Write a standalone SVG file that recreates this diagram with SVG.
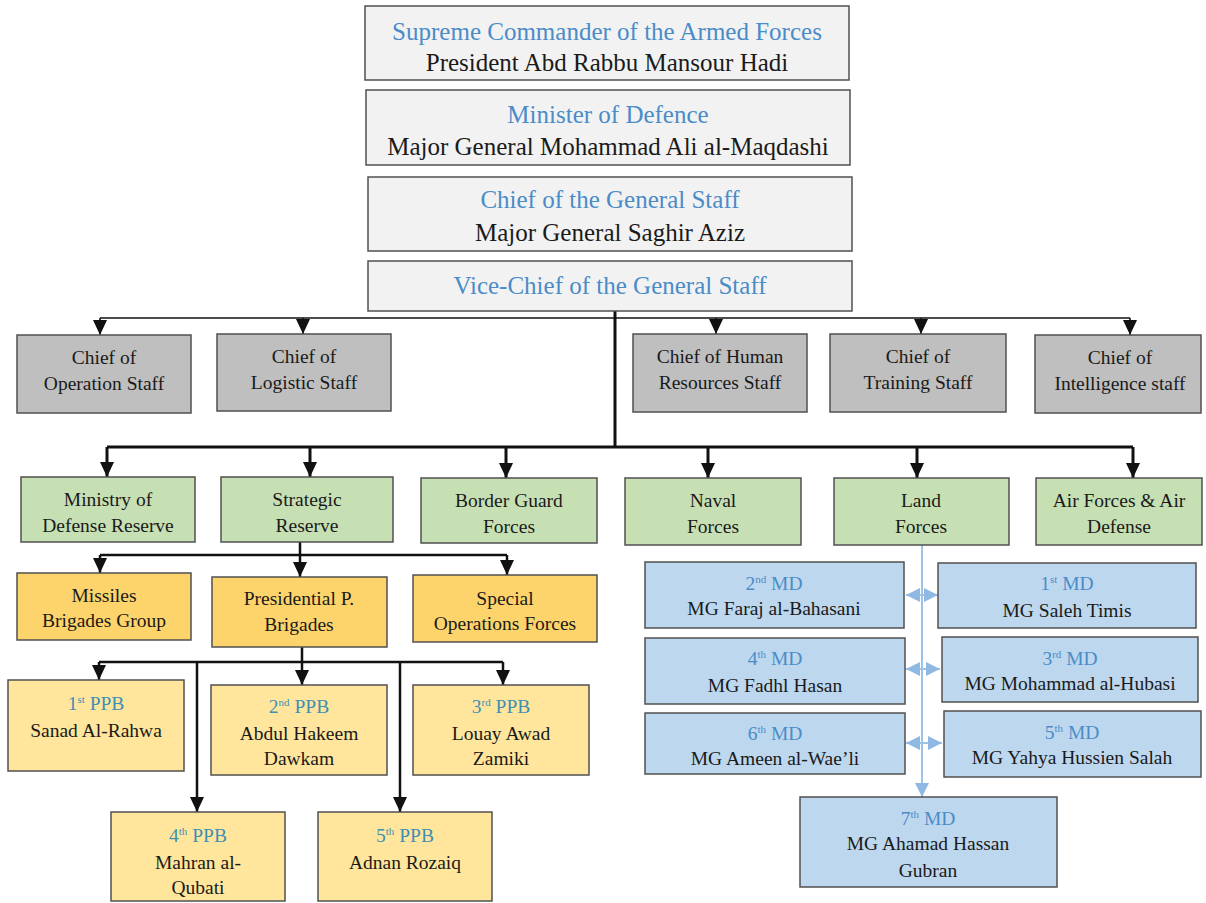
<svg xmlns="http://www.w3.org/2000/svg" width="1206" height="903" viewBox="0 0 1206 903" font-family="'Liberation Serif', 'Times New Roman', 'DejaVu Serif', serif">
<style>
text{font-family:'Liberation Serif','Times New Roman','DejaVu Serif',serif;text-anchor:middle;fill:#1a1a1a}
.t{font-size:25px}
.s{font-size:19.5px}
.b{fill:#4a8cc8}
.tl{fill:#3f8fb5}
.box{stroke:#505050;stroke-width:1.5}
.top{fill:#f2f2f2}
.gray{fill:#bfbfbf}
.green{fill:#c6e0b4}
.orange{fill:#fdd46b}
.yellow{fill:#ffe69c}
.blue{fill:#bdd7ee}
.c1{stroke:#111;stroke-width:1.6;fill:none}
.c3{stroke:#111;stroke-width:3;fill:none}
.c2{stroke:#111;stroke-width:2.5;fill:none}
.cb{stroke:#9dc3e6;stroke-width:2;fill:none}
</style>
<defs>
<marker id="ah" markerUnits="userSpaceOnUse" markerWidth="16" markerHeight="14" refX="15" refY="7" orient="auto"><path d="M0,0 L15,7 L0,14 z" fill="#111"/></marker>
<marker id="ahb" markerUnits="userSpaceOnUse" markerWidth="16" markerHeight="14" refX="14" refY="7" orient="auto-start-reverse"><path d="M0,0 L14,7 L0,14 z" fill="#8fb9e2"/></marker>
</defs>
<rect x="0" y="0" width="1206" height="903" fill="#ffffff"/>
<g id="connectors">
<path class="c3" d="M615,311 V447"/>
<path class="c1" d="M100,318 H1130"/>
<path class="c1" marker-end="url(#ah)" d="M100,318 V335"/>
<path class="c1" marker-end="url(#ah)" d="M303,318 V334"/>
<path class="c1" marker-end="url(#ah)" d="M716,318 V334"/>
<path class="c1" marker-end="url(#ah)" d="M921,318 V334"/>
<path class="c1" marker-end="url(#ah)" d="M1130,318 V335"/>
<path class="c3" d="M107,447 H1133"/>
<path class="c3" marker-end="url(#ah)" d="M107,447 V477"/>
<path class="c3" marker-end="url(#ah)" d="M310,447 V477"/>
<path class="c3" marker-end="url(#ah)" d="M506,447 V478"/>
<path class="c3" marker-end="url(#ah)" d="M708,447 V478"/>
<path class="c3" marker-end="url(#ah)" d="M917,447 V478"/>
<path class="c3" marker-end="url(#ah)" d="M1133,447 V478"/>
<path class="c2" d="M300,542 V555 M100,555 H507"/>
<path class="c2" marker-end="url(#ah)" d="M100,555 V573"/>
<path class="c2" marker-end="url(#ah)" d="M300,555 V577"/>
<path class="c2" marker-end="url(#ah)" d="M507,555 V575"/>
<path class="c2" d="M302,647 V662 M99,662 H503"/>
<path class="c2" marker-end="url(#ah)" d="M99,662 V680"/>
<path class="c2" marker-end="url(#ah)" d="M302,662 V685"/>
<path class="c2" marker-end="url(#ah)" d="M503,662 V685"/>
<path class="c2" marker-end="url(#ah)" d="M197,662 V812"/>
<path class="c2" marker-end="url(#ah)" d="M400,662 V812"/>
<path class="cb" marker-end="url(#ahb)" d="M922,545 V797"/>
<path class="cb" marker-start="url(#ahb)" marker-end="url(#ahb)" d="M906,595 H938"/>
<path class="cb" marker-start="url(#ahb)" marker-end="url(#ahb)" d="M906,669 H940"/>
<path class="cb" marker-start="url(#ahb)" marker-end="url(#ahb)" d="M906,743 H942"/>
</g>
<g id="supreme"><rect class="box top" x="365" y="6" width="484" height="74"/>
<text class="t b" x="607" y="40">Supreme Commander of the Armed Forces</text>
<text class="t" x="607" y="71">President Abd Rabbu Mansour Hadi</text></g>
<g id="minister"><rect class="box top" x="366" y="90" width="484" height="75"/>
<text class="t b" x="608" y="123">Minister of Defence</text>
<text class="t" x="608" y="155">Major General Mohammad Ali al-Maqdashi</text></g>
<g id="chief-gs"><rect class="box top" x="368" y="177" width="484" height="74"/>
<text class="t b" x="610" y="208">Chief of the General Staff</text>
<text class="t" x="610" y="241">Major General Saghir Aziz</text></g>
<g id="vice-chief"><rect class="box top" x="368" y="261" width="484" height="50"/>
<text class="t b" x="610" y="294">Vice-Chief of the General Staff</text></g>
<g id="operation"><rect class="box gray" x="17" y="335" width="174" height="78"/>
<text class="s" x="104" y="364">Chief of</text><text class="s" x="104" y="390">Operation Staff</text></g>
<g id="logistic"><rect class="box gray" x="217" y="334" width="174" height="77"/>
<text class="s" x="304" y="363">Chief of</text><text class="s" x="304" y="389">Logistic Staff</text></g>
<g id="hr"><rect class="box gray" x="633" y="334" width="174" height="78"/>
<text class="s" x="720" y="363">Chief of Human</text><text class="s" x="720" y="389">Resources Staff</text></g>
<g id="training"><rect class="box gray" x="830" y="334" width="176" height="78"/>
<text class="s" x="918" y="363">Chief of</text><text class="s" x="918" y="389">Training Staff</text></g>
<g id="intelligence"><rect class="box gray" x="1035" y="335" width="166" height="78"/>
<text class="s" x="1120" y="364">Chief of</text><text class="s" x="1120" y="390">Intelligence staff</text></g>
<g id="mod-reserve"><rect class="box green" x="21" y="477" width="174" height="65"/>
<text class="s" x="108" y="506">Ministry of</text><text class="s" x="108" y="532">Defense Reserve</text></g>
<g id="strategic"><rect class="box green" x="221" y="477" width="172" height="65"/>
<text class="s" x="307" y="506">Strategic</text><text class="s" x="307" y="532">Reserve</text></g>
<g id="border"><rect class="box green" x="421" y="478" width="176" height="65"/>
<text class="s" x="509" y="507">Border Guard</text><text class="s" x="509" y="533">Forces</text></g>
<g id="naval"><rect class="box green" x="625" y="478" width="176" height="67"/>
<text class="s" x="713" y="507">Naval</text><text class="s" x="713" y="533">Forces</text></g>
<g id="land"><rect class="box green" x="834" y="478" width="175" height="67"/>
<text class="s" x="921" y="507">Land</text><text class="s" x="921" y="533">Forces</text></g>
<g id="air"><rect class="box green" x="1036" y="478" width="166" height="67"/>
<text class="s" x="1119" y="507">Air Forces &amp; Air</text><text class="s" x="1119" y="533">Defense</text></g>
<g id="missiles"><rect class="box orange" x="17" y="573" width="174" height="67"/>
<text class="s" x="104" y="602">Missiles</text><text class="s" x="104" y="627">Brigades Group</text></g>
<g id="presidential"><rect class="box orange" x="212" y="577" width="175" height="70"/>
<text class="s" x="299" y="605">Presidential P.</text><text class="s" x="299" y="631">Brigades</text></g>
<g id="special"><rect class="box orange" x="413" y="575" width="184" height="67"/>
<text class="s" x="505" y="605">Special</text><text class="s" x="505" y="630">Operations Forces</text></g>
<g id="ppb1"><rect class="box yellow" x="8" y="680" width="176" height="91"/>
<text class="s tl" x="96" y="710">1<tspan font-size="11" dy="-7">st</tspan><tspan dy="7"> PPB</tspan></text>
<text class="s" x="96" y="737">Sanad Al-Rahwa</text></g>
<g id="ppb2"><rect class="box yellow" x="211" y="685" width="176" height="90"/>
<text class="s tl" x="299" y="713">2<tspan font-size="11" dy="-7">nd</tspan><tspan dy="7"> PPB</tspan></text>
<text class="s" x="299" y="740">Abdul Hakeem</text><text class="s" x="299" y="765">Dawkam</text></g>
<g id="ppb3"><rect class="box yellow" x="413" y="685" width="176" height="90"/>
<text class="s tl" x="501" y="713">3<tspan font-size="11" dy="-7">rd</tspan><tspan dy="7"> PPB</tspan></text>
<text class="s" x="501" y="740">Louay Awad</text><text class="s" x="501" y="765">Zamiki</text></g>
<g id="ppb4"><rect class="box yellow" x="111" y="812" width="174" height="89"/>
<text class="s tl" x="198" y="842">4<tspan font-size="11" dy="-7">th</tspan><tspan dy="7"> PPB</tspan></text>
<text class="s" x="198" y="869">Mahran al-</text><text class="s" x="198" y="894">Qubati</text></g>
<g id="ppb5"><rect class="box yellow" x="318" y="812" width="174" height="89"/>
<text class="s tl" x="405" y="842">5<tspan font-size="11" dy="-7">th</tspan><tspan dy="7"> PPB</tspan></text>
<text class="s" x="405" y="869">Adnan Rozaiq</text></g>
<g id="md2"><rect class="box blue" x="645" y="562" width="259" height="66"/>
<text class="s b" x="774" y="590">2<tspan font-size="11" dy="-7">nd</tspan><tspan dy="7"> MD</tspan></text>
<text class="s" x="774" y="615">MG  Faraj al-Bahasani</text></g>
<g id="md1"><rect class="box blue" x="938" y="563" width="258" height="65"/>
<text class="s b" x="1067" y="590">1<tspan font-size="11" dy="-7">st</tspan><tspan dy="7"> MD</tspan></text>
<text class="s" x="1067" y="617">MG Saleh Timis</text></g>
<g id="md4"><rect class="box blue" x="645" y="638" width="260" height="66"/>
<text class="s b" x="775" y="665">4<tspan font-size="11" dy="-7">th</tspan><tspan dy="7"> MD</tspan></text>
<text class="s" x="775" y="692">MG Fadhl Hasan</text></g>
<g id="md3"><rect class="box blue" x="942" y="637" width="256" height="65"/>
<text class="s b" x="1070" y="665">3<tspan font-size="11" dy="-7">rd</tspan><tspan dy="7"> MD</tspan></text>
<text class="s" x="1070" y="690">MG Mohammad al-Hubasi</text></g>
<g id="md6"><rect class="box blue" x="645" y="713" width="260" height="61"/>
<text class="s b" x="775" y="740">6<tspan font-size="11" dy="-7">th</tspan><tspan dy="7"> MD</tspan></text>
<text class="s" x="775" y="765">MG Ameen al-Wae’li</text></g>
<g id="md5"><rect class="box blue" x="944" y="711" width="257" height="66"/>
<text class="s b" x="1072" y="739">5<tspan font-size="11" dy="-7">th</tspan><tspan dy="7"> MD</tspan></text>
<text class="s" x="1072" y="764">MG Yahya Hussien Salah</text></g>
<g id="md7"><rect class="box blue" x="800" y="797" width="257" height="90"/>
<text class="s b" x="928" y="825">7<tspan font-size="11" dy="-7">th</tspan><tspan dy="7"> MD</tspan></text>
<text class="s" x="928" y="850">MG Ahamad Hassan</text><text class="s" x="928" y="877">Gubran</text></g>
</svg>
